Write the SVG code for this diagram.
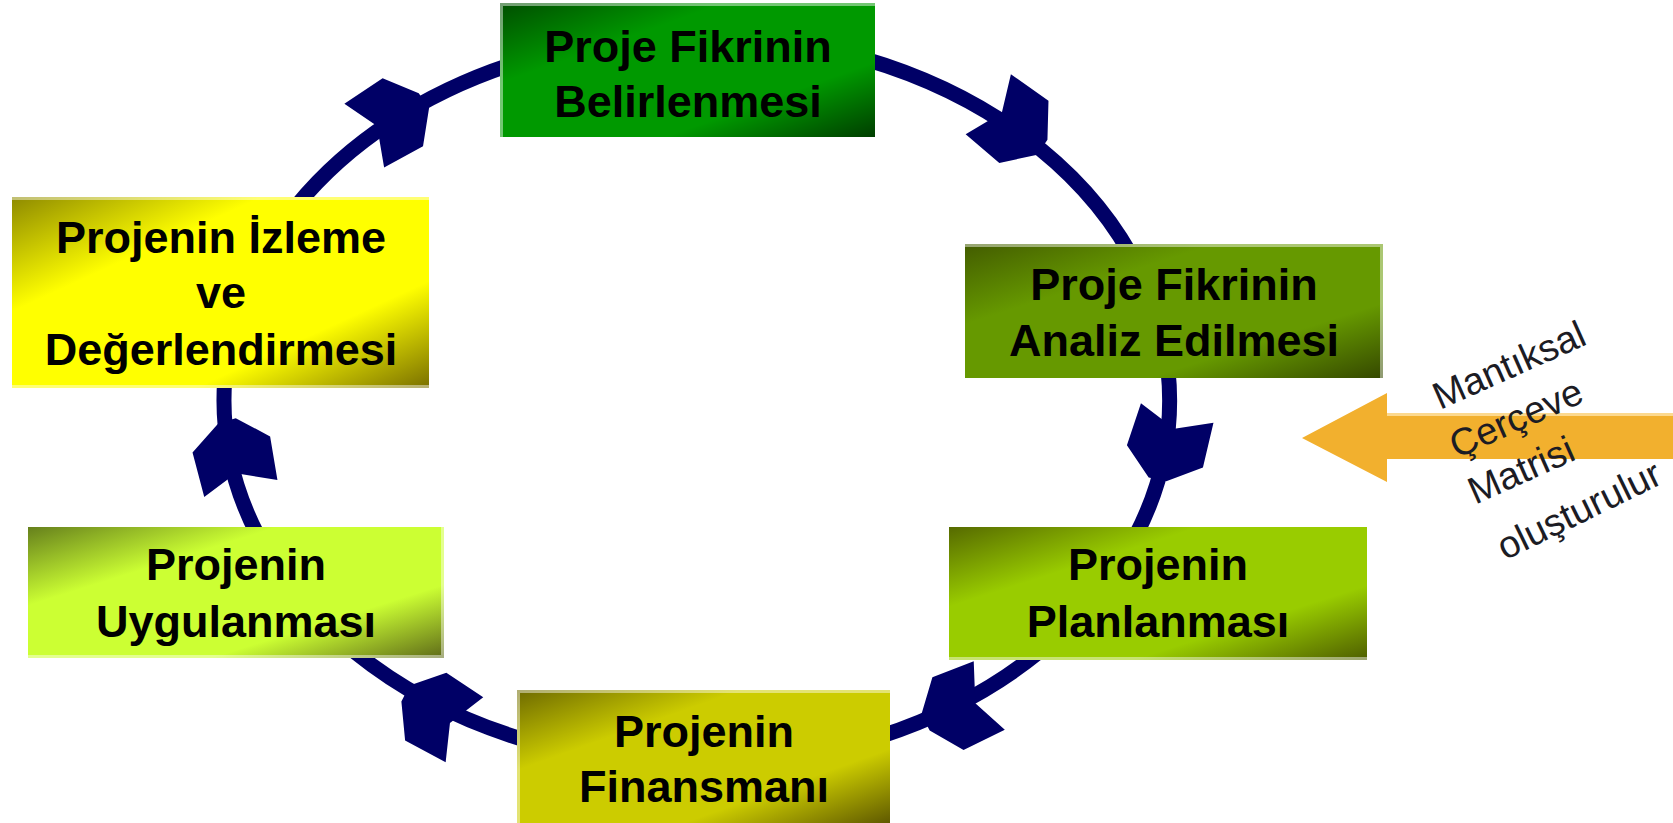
<svg xmlns="http://www.w3.org/2000/svg" xmlns:xlink="http://www.w3.org/1999/xlink" width="1673" height="823" viewBox="0 0 1673 823">
<style>
.lbl{font-family:"Liberation Sans",Arial,sans-serif;font-weight:bold;font-size:45px;fill:#000;text-anchor:middle}
.side{font-family:"Liberation Sans",Arial,sans-serif;font-size:38px;fill:#1c1c24;text-anchor:middle}
.conn{fill:none;stroke:#000066;stroke-width:15}
.head{fill:#000066}
.edge{stroke:#ffffff;stroke-opacity:0.45;stroke-width:3;fill:none}
</style>
<defs>
<linearGradient id="gTop" x1="0" y1="0" x2="1" y2="1">
<stop offset="0" stop-color="#004e00"/><stop offset="0.3" stop-color="#009900"/><stop offset="0.72" stop-color="#009900"/><stop offset="1" stop-color="#003e00"/>
</linearGradient>
<linearGradient id="gAna" x1="0" y1="0" x2="1" y2="1">
<stop offset="0" stop-color="#435c00"/><stop offset="0.3" stop-color="#669900"/><stop offset="0.72" stop-color="#669900"/><stop offset="1" stop-color="#354800"/>
</linearGradient>
<linearGradient id="gPla" x1="0" y1="0" x2="1" y2="1">
<stop offset="0" stop-color="#566a00"/><stop offset="0.3" stop-color="#99cc00"/><stop offset="0.72" stop-color="#99cc00"/><stop offset="1" stop-color="#4e5e00"/>
</linearGradient>
<linearGradient id="gFin" x1="0" y1="0" x2="1" y2="1">
<stop offset="0" stop-color="#6e6a00"/><stop offset="0.3" stop-color="#cccc00"/><stop offset="0.72" stop-color="#cccc00"/><stop offset="1" stop-color="#5e5800"/>
</linearGradient>
<linearGradient id="gUyg" x1="0" y1="0" x2="1" y2="1">
<stop offset="0" stop-color="#66801c"/><stop offset="0.3" stop-color="#ccff33"/><stop offset="0.72" stop-color="#ccff33"/><stop offset="1" stop-color="#5e6a18"/>
</linearGradient>
<linearGradient id="gYel" x1="0" y1="0" x2="1" y2="1">
<stop offset="0" stop-color="#8e8a00"/><stop offset="0.3" stop-color="#ffff00"/><stop offset="0.72" stop-color="#ffff00"/><stop offset="1" stop-color="#7a7000"/>
</linearGradient>
<polygon id="ah" points="-31,-44 -17,-7 -35,31 9,36 36,8 36,-10 15,-43"/>
</defs>

<rect width="1673" height="823" fill="#ffffff"/>

<g id="connectors">
<path class="conn" d="M 865 59 A 473 365 0 0 1 1131 255"/>
<path class="conn" d="M 1168 370 A 473 365 0 0 1 1136 535"/>
<path class="conn" d="M 1039 652 A 473 365 0 0 1 880 736.5"/>
<path class="conn" d="M 527 740.6 A 473 365 0 0 1 354.8 652"/>
<path class="conn" d="M 257.6 535 A 473 365 0 0 1 224.7 380"/>
<path class="conn" d="M 297.2 205 A 473 365 0 0 1 510 64.8"/>
<use xlink:href="#ah" class="head" transform="translate(1012,128) rotate(34)"/>
<use xlink:href="#ah" class="head" transform="translate(1164,444) rotate(102)"/>
<use xlink:href="#ah" class="head" transform="translate(957,705) rotate(152.5)"/>
<use xlink:href="#ah" class="head" transform="translate(438,709) rotate(207)"/>
<use xlink:href="#ah" class="head" transform="translate(238,455) rotate(-106)"/>
<use xlink:href="#ah" class="head" transform="translate(395,122) rotate(-35)"/>
</g>

<g id="node-belirlenmesi">
<rect x="500" y="3" width="375" height="134" fill="url(#gTop)"/>
<path class="edge" d="M500 4.5 H875 M501.5 3 V137"/>
<text class="lbl" x="688" y="62">Proje Fikrinin</text>
<text class="lbl" x="688" y="117">Belirlenmesi</text>
</g>

<g id="node-analiz">
<rect x="965" y="244" width="418" height="134" fill="url(#gAna)"/>
<path class="edge" d="M965 245.5 H1383 M1381.5 244 V378"/>
<text class="lbl" x="1174" y="300">Proje Fikrinin</text>
<text class="lbl" x="1174" y="356">Analiz Edilmesi</text>
</g>

<g id="node-planlanmasi">
<rect x="949" y="527" width="418" height="133" fill="url(#gPla)"/>
<path class="edge" d="M949 658.5 H1367"/>
<text class="lbl" x="1158" y="580">Projenin</text>
<text class="lbl" x="1158" y="637">Planlanması</text>
</g>

<g id="node-finansmani">
<rect x="517" y="690" width="373" height="134" fill="url(#gFin)"/>
<path class="edge" d="M517 691.5 H890 M518.5 690 V823"/>
<text class="lbl" x="704" y="747">Projenin</text>
<text class="lbl" x="704" y="802">Finansmanı</text>
</g>

<g id="node-uygulanmasi">
<rect x="28" y="527" width="416" height="131" fill="url(#gUyg)"/>
<path class="edge" d="M442.5 527 V658 M28 656.5 H444"/>
<text class="lbl" x="236" y="580">Projenin</text>
<text class="lbl" x="236" y="637">Uygulanması</text>
</g>

<g id="node-izleme">
<rect x="12" y="197" width="417" height="191" fill="url(#gYel)"/>
<path class="edge" d="M12 198.5 H429 M12 386.5 H429"/>
<text class="lbl" x="221" y="253">Projenin İzleme</text>
<text class="lbl" x="221" y="308">ve</text>
<text class="lbl" x="221" y="365">Değerlendirmesi</text>
</g>

<g id="side-arrow">
<polygon points="1302,438 1387,393 1387,413 1673,413 1673,459 1387,459 1387,482" fill="#f2b02e"/>
<path d="M1387 414.5 H1673" stroke="#fcd98f" stroke-width="3"/>
<text class="side" transform="translate(1509,365) rotate(-24)" y="13">Mantıksal</text>
<text class="side" transform="translate(1516,418) rotate(-24)" y="13">Çerçeve</text>
<text class="side" transform="translate(1521,470) rotate(-24)" y="13">Matrisi</text>
<text class="side" transform="translate(1579,510) rotate(-26)" y="13">oluşturulur</text>
</g>
</svg>
